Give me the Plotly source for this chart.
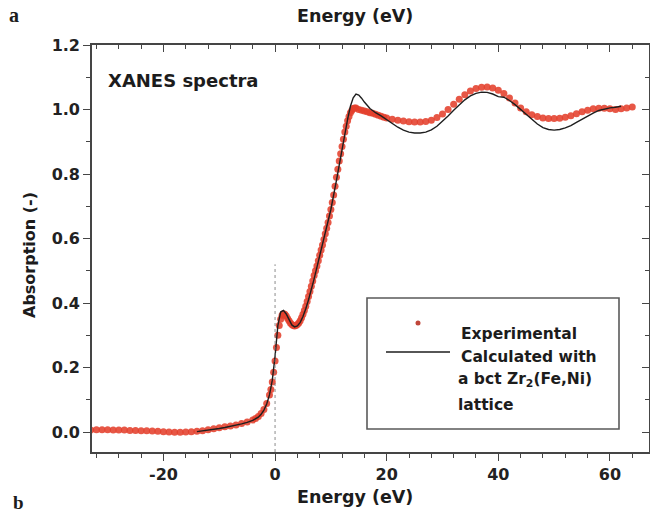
import plotly.graph_objects as go

# Experimental XANES spectrum (energy relative to the edge, eV)
exp_energy = [
    -33, -32, -31, -30, -29, -28, -27, -26, -25, -24, -23, -22, -21, -20,
    -19, -18, -17, -16, -15, -14, -13, -12, -11, -10, -9, -8, -7, -6, -5, -4,
    -3.5, -3, -2.5, -2, -1.5,
    -1.0, -0.75, -0.5, -0.25, 0, 0.25, 0.5, 0.75, 1.0, 1.25, 1.5, 1.75,
    2.0, 2.25, 2.5, 2.75, 3.0, 3.25, 3.5, 3.75, 4.0, 4.25, 4.5, 4.75,
    5.0, 5.25, 5.5, 5.75, 6.0, 6.25, 6.5, 6.75, 7.0, 7.25, 7.5, 7.75,
    8.0, 8.25, 8.5, 8.75, 9.0, 9.25, 9.5, 9.75, 10, 10.25, 10.5, 10.75,
    11, 11.25, 11.5, 11.75, 12, 12.25, 12.5, 12.75, 13, 13.25, 13.5, 13.75,
    14, 14.25, 14.5, 15, 15.5, 16, 16.5, 17, 17.5, 18, 18.5, 19, 19.5, 20,
    21, 22, 23, 24, 25, 26, 27, 28, 29, 30, 31, 32, 33, 34, 35, 36, 37, 38,
    39, 40, 41, 42, 43, 44, 45, 46, 47, 48, 49, 50, 51, 52, 53, 54, 55, 56,
    57, 58, 59, 60, 61, 62, 63, 64,
]
exp_absorption = [
    0.006, 0.007, 0.007, 0.007, 0.006, 0.006, 0.006, 0.005, 0.005, 0.004,
    0.004, 0.003, 0.002, 0.001, 0.000, -0.001, -0.001, 0.000, 0.001, 0.002,
    0.004, 0.007, 0.010, 0.013, 0.016, 0.019, 0.022, 0.026, 0.031, 0.037,
    0.042, 0.048, 0.057, 0.070, 0.088,
    0.115, 0.132, 0.155, 0.185, 0.220, 0.262, 0.300, 0.330, 0.350, 0.362,
    0.367, 0.365, 0.360, 0.352, 0.345, 0.338, 0.333, 0.330, 0.329, 0.330,
    0.333, 0.338, 0.345, 0.354, 0.365, 0.377, 0.390, 0.405, 0.420, 0.436,
    0.452, 0.468, 0.485, 0.500, 0.515, 0.531, 0.548, 0.564, 0.580, 0.597,
    0.615, 0.632, 0.650, 0.670, 0.690, 0.712, 0.735, 0.762, 0.790, 0.815,
    0.840, 0.863, 0.885, 0.908, 0.930, 0.948, 0.965, 0.978, 0.990, 0.997,
    1.003, 1.005, 1.005, 1.000, 0.998, 0.995, 0.993, 0.990, 0.988, 0.985,
    0.982, 0.979, 0.976, 0.974,
    0.970, 0.967, 0.964, 0.962, 0.961, 0.961, 0.963, 0.967, 0.975, 0.986,
    1.000, 1.016, 1.032, 1.046, 1.057, 1.065, 1.069, 1.070, 1.067, 1.060,
    1.050, 1.036, 1.020, 1.005, 0.993, 0.984, 0.978, 0.974, 0.972, 0.972,
    0.973, 0.976, 0.981, 0.987, 0.993, 0.998, 1.002, 1.004, 1.004, 1.002,
    1.000, 1.002, 1.005, 1.008,
]

# Spectrum calculated for a bct Zr2(Fe,Ni) lattice
calc_energy = [
    -14, -13, -12, -11, -10, -9, -8, -7, -6, -5, -4, -3, -2.5, -2, -1.5, -1,
    -0.5, 0, 0.5, 1.0, 1.5, 2.0, 2.5, 3.0, 3.5, 4.0, 4.5, 5, 5.5, 6, 7, 8, 9,
    10, 11, 12, 13, 13.5, 14, 14.5, 15, 15.5, 16, 17, 18, 19, 20, 21, 22, 23,
    24, 25, 26, 27, 28, 29, 30, 31, 32, 33, 34, 35, 36, 37, 38, 39, 40, 41,
    42, 43, 44, 45, 46, 47, 48, 49, 50, 51, 52, 53, 54, 55, 56, 57, 58, 59,
    60, 61, 62,
]
calc_absorption = [
    0.001, 0.003, 0.005, 0.008, 0.011, 0.014, 0.017, 0.021, 0.025, 0.030,
    0.036, 0.046, 0.055, 0.068, 0.087, 0.115, 0.160, 0.235, 0.330, 0.372,
    0.377, 0.366, 0.348, 0.332, 0.326, 0.329, 0.340, 0.358, 0.382, 0.410,
    0.475, 0.545, 0.615, 0.690, 0.780, 0.880, 0.970, 1.010, 1.036, 1.048,
    1.045, 1.035, 1.023, 1.003, 0.990, 0.980, 0.968, 0.956, 0.945, 0.936,
    0.930, 0.927, 0.927, 0.930, 0.937, 0.948, 0.963, 0.980, 0.998, 1.015,
    1.030, 1.042, 1.050, 1.054, 1.053, 1.048, 1.040, 1.038, 1.028, 1.015,
    1.000, 0.984, 0.969, 0.955, 0.944, 0.938, 0.936, 0.938, 0.943, 0.950,
    0.960, 0.970, 0.980, 0.989, 0.997, 1.002, 1.005, 1.007, 1.010,
]

# Edge position (E0) and the height of its guide line
edge_energy = 0.0
edge_guide_top = 0.52

x_range = [-32.8, 67.0]
y_range = [-0.062, 1.2]
x_ticks = [-20, 0, 20, 40, 60]
x_tick_labels = ["-20", "0", "20", "40", "60"]
y_ticks = [0.0, 0.2, 0.4, 0.6, 0.8, 1.0, 1.2]
y_tick_labels = ["0.0", "0.2", "0.4", "0.6", "0.8", "1.0", "1.2"]

BOLD = "DejaVu Sans"
FRAME = "#454545"
RED = "rgba(228,64,44,0.88)"

fig = go.Figure()

fig.add_trace(go.Scatter(
    x=exp_energy, y=exp_absorption, mode="markers",
    marker=dict(size=7, color=RED, line=dict(width=0)),
    name="Experimental", showlegend=False,
))
fig.add_trace(go.Scatter(
    x=calc_energy, y=calc_absorption, mode="lines",
    line=dict(color="#1e1e1e", width=1.4),
    name="Calculated", showlegend=False,
))

# dotted guide at the absorption edge
fig.add_shape(type="line", xref="x", yref="y",
              x0=edge_energy, x1=edge_energy, y0=y_range[0], y1=edge_guide_top,
              line=dict(color="rgba(120,120,120,0.85)", width=1, dash="dot"))

tickfont = dict(family=BOLD, size=16, color="#222", weight="bold")
common_x = dict(range=x_range, showgrid=False, zeroline=False, showline=True,
                linecolor=FRAME, linewidth=1.6, automargin=False,
                tickmode="array", tickvals=x_ticks, ticktext=x_tick_labels,
                tickcolor=FRAME, tickwidth=1.2)
common_y = dict(range=y_range, showgrid=False, zeroline=False, showline=True,
                linecolor=FRAME, linewidth=1.6, automargin=False,
                tickmode="array", tickvals=y_ticks, ticktext=y_tick_labels,
                tickcolor=FRAME, tickwidth=1.2)

fig.update_layout(
    width=650, height=516, template="none",
    margin=dict(l=92, r=1, t=45, b=64),
    paper_bgcolor="white", plot_bgcolor="white",
    showlegend=False,
    xaxis=dict(**common_x, ticks="outside", ticklen=7, tickfont=tickfont,
               minor=dict(dtick=4, tick0=0, ticks="outside", ticklen=4,
                          tickcolor=FRAME, tickwidth=1)),
    xaxis2=dict(**common_x, overlaying="x", side="top", ticks="inside",
                ticklen=7, showticklabels=False,
                minor=dict(dtick=4, tick0=0, ticks="inside", ticklen=4,
                           tickcolor=FRAME, tickwidth=1)),
    yaxis=dict(**common_y, ticks="outside", ticklen=7, tickfont=tickfont,
               minor=dict(dtick=0.1, tick0=0, ticks="outside", ticklen=4,
                          tickcolor=FRAME, tickwidth=1)),
    yaxis2=dict(**common_y, overlaying="y", side="right", ticks="inside",
                ticklen=7, showticklabels=False,
                minor=dict(dtick=0.1, tick0=0, ticks="inside", ticklen=4,
                           tickcolor=FRAME, tickwidth=1)),
)
# keep the mirrored frame axes drawn
fig.add_trace(go.Scatter(x=[None], y=[None], xaxis="x2", yaxis="y2",
                         showlegend=False, hoverinfo="skip"))


def px_x(px):
    return (px - 92) / 557.0


def px_y(py):
    return (452 - py) / 407.0


# legend box with its symbols
fig.add_shape(type="rect", xref="paper", yref="paper",
              x0=px_x(367), x1=px_x(619), y0=px_y(429), y1=px_y(298),
              line=dict(color="#5a5a5a", width=1.6), fillcolor="white")
fig.add_shape(type="circle", xref="paper", yref="paper",
              xsizemode="pixel", ysizemode="pixel",
              xanchor=px_x(418), yanchor=px_y(323),
              x0=-2.5, x1=2.5, y0=-2.5, y1=2.5,
              line=dict(width=0), fillcolor="#c0463a")
fig.add_shape(type="line", xref="paper", yref="paper",
              x0=px_x(386), x1=px_x(450), y0=px_y(352), y1=px_y(352),
              line=dict(color="#1e1e1e", width=1.4))

annotations = []


def text(x, y, s, size=15.5, family=BOLD, weight="bold", anchor="left",
         angle=0, color="#1c1c1c"):
    annotations.append(dict(
        x=x, y=y, xref="paper", yref="paper", text=s, showarrow=False,
        xanchor=anchor, yanchor="middle", textangle=angle,
        font=dict(family=family, size=size, color=color, weight=weight)))


text(px_x(459), px_y(334), "Experimental")
text(px_x(459), px_y(357), "Calculated with")
text(px_x(456), px_y(380), "a bct Zr<sub>2</sub>(Fe,Ni)")
text(px_x(456), px_y(405), "lattice")

text(px_x(106), px_y(80), "XANES spectra", size=18)

# axis titles
text(px_x(355), px_y(16), "Energy (eV)", size=17.5, anchor="center")
text(px_x(355), px_y(497), "Energy (eV)", size=17.5, anchor="center")
text(px_x(30), px_y(255), "Absorption (-)", size=16, anchor="center",
     angle=-90)

# panel letters
text(px_x(7), px_y(15), "a", size=20, family="Liberation Serif")
text(px_x(11), px_y(502), "b", size=19, family="Liberation Serif")

fig.update_layout(annotations=annotations)

fig.write_html("out.html")
